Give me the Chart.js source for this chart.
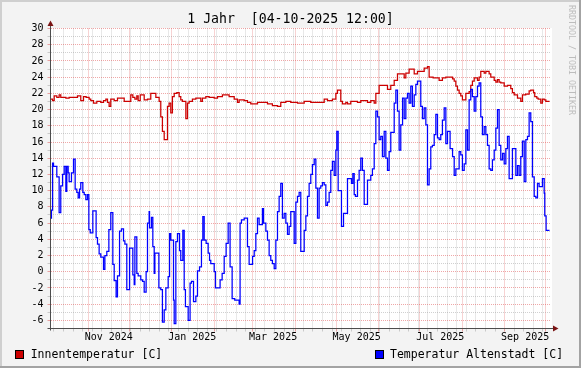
<!DOCTYPE html>
<html>
<head>
<meta charset="utf-8">
<title>1 Jahr</title>
<script src="https://cdn.jsdelivr.net/npm/chart.js@4.4.1/dist/chart.umd.min.js"></script>
<style>
    html, body { margin: 0; padding: 0; background: #f3f3f3; }
    #wrap { position: relative; width: 581px; height: 368px; overflow: hidden; }
    #chart { position: absolute; left: 0; top: 0; }
    .legend { position: absolute; top: 348.6px; font: 11.5px "DejaVu Sans Mono", monospace; line-height: 11.5px; color: #000; white-space: pre; }
    .legend i { position: absolute; left: -15.5px; top: 1px; width: 7px; height: 7px; border: 1px solid #000; }
    #mark { position: absolute; left: 567px; top: 5px; writing-mode: vertical-rl; font: 8.3px "DejaVu Sans Mono", monospace; line-height: 9px; color: #bdbdbd; white-space: pre; }
</style>
</head>
<body>
<div id="wrap">
    <canvas id="chart" width="581" height="368"></canvas>
    <div class="legend" style="left: 30.7px"><i style="background: #cc0000"></i>Innentemperatur [C]</div>
    <div class="legend" style="left: 390px"><i style="background: #0000ff"></i>Temperatur Altenstadt [C]</div>
    <div id="mark">RRDTOOL / TOBI OETIKER</div>
</div>
<script>
// Beschriftungen der x-Achse (alle zwei Monate)
const monthLabels = ['Nov 2024', 'Jan 2025', 'Mar 2025', 'May 2025', 'Jul 2025', 'Sep 2025'];

// Tage seit 04.10.2024 12:00 und Messwerte (Treppenlinie, Wert gilt ab dem Tag)
const redDay = [0, 1.5, 2.7, 4.6, 6.3, 7.5, 11.2, 13.6, 19.7, 22.1, 24.1, 26.0, 28.2, 29.4, 31.4, 33.8, 36.7, 38.7, 40.4, 41.6,
    42.8, 44.0, 46.5, 48.9, 53.8, 58.6, 60.1, 61.6, 63.0, 64.0, 65.5, 68.4, 70.8, 73.2, 76.9, 79.3, 80.5, 81.7, 83.0, 85.4,
    86.6, 87.8, 89.0, 90.3, 92.2, 93.9, 95.1, 96.3, 98.8, 100.0, 101.2, 103.6, 106.1, 109.7, 110.9, 113.4, 115.8, 119.5, 121.9, 125.5,
    130.4, 134.1, 136.5, 137.7, 141.4, 143.8, 146.2, 151.1, 158.4, 162.0, 165.7, 168.1, 171.8, 175.4, 180.3, 185.2, 190.0, 199.8, 202.2, 205.8,
    208.3, 209.5, 211.9, 213.1, 215.6, 216.8, 219.2, 224.1, 226.5, 231.4, 233.8, 236.3, 237.5, 239.9, 246.0, 248.4, 250.9, 253.3, 258.2, 259.4,
    261.8, 265.5, 267.9, 272.8, 275.2, 276.4, 279.3, 283.7, 286.1, 288.6, 293.5, 294.7, 295.9, 297.1, 298.3, 299.5, 300.7, 303.2, 305.6, 306.8,
    308.0, 309.3, 311.7, 312.9, 314.1, 316.6, 317.8, 320.2, 321.4, 323.9, 325.1, 326.3, 327.5, 328.7, 331.2, 333.6, 336.0, 337.2, 338.5, 340.9,
    343.3, 344.5, 346.9, 349.4, 350.6, 352.6, 353.5, 355.0, 356.0, 357.9, 359.1, 360.4, 361.6, 364.3];
const redTemp = [21.3, 21.1, 21.7, 21.5, 21.8, 21.5, 21.4, 21.5, 21.7, 21.1, 21.6, 21.5, 21.3, 21.1, 20.8, 21.0, 20.9, 21.1, 21.3, 20.9,
    20.4, 21.3, 21.1, 21.4, 21.0, 21.8, 21.5, 21.3, 21.7, 21.1, 21.8, 21.2, 21.3, 22.0, 21.5, 21.0, 19.1, 17.3, 16.3, 20.4,
    20.8, 19.6, 21.6, 22.0, 22.1, 21.6, 21.2, 21.0, 18.9, 20.8, 21.0, 21.3, 21.4, 21.0, 21.4, 21.6, 21.5, 21.4, 21.6, 21.8,
    21.6, 21.3, 20.9, 21.2, 21.1, 20.9, 20.7, 20.9, 20.7, 20.5, 20.4, 20.9, 21.0, 20.9, 20.8, 21.0, 20.9, 21.3, 21.1, 21.3,
    22.0, 22.4, 21.0, 20.7, 20.9, 20.7, 21.0, 20.9, 21.1, 20.9, 21.1, 20.8, 22.0, 23.0, 22.5, 23.0, 23.6, 24.4, 23.9, 24.5,
    25.0, 24.4, 24.7, 25.1, 25.3, 24.0, 23.9, 23.6, 23.9, 24.0, 23.8, 23.5, 22.9, 22.4, 22.0, 21.7, 21.2, 22.0, 22.2, 23.0,
    23.5, 23.9, 23.6, 24.0, 24.7, 24.5, 24.7, 24.4, 24.0, 23.6, 23.4, 23.7, 23.4, 23.3, 22.9, 23.0, 22.6, 22.1, 21.8, 21.4,
    21.0, 21.8, 21.9, 22.3, 22.4, 22.1, 21.6, 21.4, 21.3, 20.8, 21.3, 21.2, 21.0, 21.0];

const blueDay = [0, 0.7, 1.5, 2.2, 4.6, 6.3, 7.5, 8.8, 10.0, 11.2, 11.9, 12.9, 13.6, 15.3, 16.8, 18.0, 19.2, 20.2, 21.2, 22.1,
    23.6, 24.6, 25.8, 27.0, 28.0, 29.0, 30.9, 33.3, 34.3, 35.5, 36.7, 38.7, 39.7, 41.1, 42.6, 44.0, 45.5, 46.5, 47.9, 48.9,
    50.4, 51.8, 53.3, 54.3, 55.7, 57.7, 60.1, 61.1, 61.6, 63.0, 64.0, 65.9, 67.2, 68.4, 69.8, 70.8, 72.0, 72.3, 73.7, 74.7,
    75.7, 76.2, 79.1, 80.5, 81.7, 83.0, 84.2, 85.9, 86.9, 87.8, 89.8, 90.3, 91.5, 92.7, 94.2, 95.1, 96.6, 97.6, 98.5, 100.5,
    101.9, 102.9, 104.4, 106.1, 107.3, 108.8, 110.2, 111.2, 112.2, 113.6, 115.1, 116.1, 117.0, 119.5, 120.4, 123.8, 125.3, 126.8, 128.2, 129.7,
    131.1, 132.6, 134.5, 137.7, 138.4, 139.4, 141.4, 143.8, 145.0, 147.5, 148.7, 149.9, 151.1, 152.3, 154.7, 155.5, 157.2, 158.4, 159.6, 160.8,
    162.0, 163.3, 164.5, 165.7, 166.9, 168.1, 169.3, 170.6, 171.8, 173.0, 174.2, 175.4, 177.9, 179.1, 180.3, 181.5, 182.7, 185.2, 186.4, 187.6,
    188.8, 190.0, 191.2, 192.5, 193.7, 194.9, 196.1, 197.3, 198.5, 199.8, 201.0, 202.2, 203.4, 204.6, 205.8, 207.1, 208.3, 209.0, 210.0, 212.4,
    213.9, 216.8, 219.7, 220.7, 221.7, 222.6, 224.1, 225.3, 226.5, 227.7, 229.0, 231.4, 233.8, 235.0, 236.3, 237.5, 238.7, 239.9, 241.1, 242.3,
    243.6, 244.8, 246.0, 247.2, 248.4, 250.9, 252.1, 253.3, 254.5, 255.7, 257.0, 258.2, 259.4, 260.6, 261.8, 263.0, 264.2, 265.5, 266.7, 267.9,
    270.3, 271.5, 272.8, 274.0, 275.2, 276.4, 277.6, 278.8, 280.1, 281.3, 282.5, 283.7, 284.9, 286.1, 287.4, 288.6, 289.8, 291.7, 293.5, 294.7,
    295.9, 298.3, 299.5, 300.7, 302.0, 303.2, 304.4, 305.6, 306.8, 308.0, 309.3, 310.5, 311.7, 312.9, 314.1, 315.3, 316.6, 317.8, 319.0, 320.2,
    321.4, 322.6, 323.9, 325.1, 326.3, 327.5, 328.7, 330.0, 331.2, 332.4, 333.6, 334.8, 337.2, 339.7, 340.9, 342.1, 343.3, 344.5, 345.8, 347.0,
    348.2, 349.4, 350.6, 351.8, 353.1, 354.3, 355.5, 356.7, 359.1, 360.4, 360.8, 361.8, 364.3];
const blueTemp = [6.6, 7.6, 13.4, 13.0, 11.7, 7.3, 10.6, 12.0, 13.0, 9.9, 13.0, 12.2, 11.1, 12.2, 13.9, 10.2, 9.8, 9.1, 10.2, 11.0,
    9.8, 9.5, 8.9, 9.5, 5.2, 4.8, 7.5, 4.2, 3.4, 2.2, 1.8, 0.3, 2.0, 2.5, 5.2, 7.3, 0.9, -1.1, -3.1, -0.5,
    5.0, 5.3, 3.8, 3.4, -2.2, 2.9, -0.4, -1.6, 4.3, -0.2, -0.5, -1.0, -1.2, -2.5, 0.0, 6.0, 7.4, 5.4, 6.7, 3.1,
    -0.2, 2.3, -2.0, -2.2, -6.2, -4.7, -2.0, -0.6, 4.7, 3.9, -3.5, -6.4, 3.7, 4.7, 2.6, 1.4, 5.1, -2.2, -4.3, -6.0,
    -1.4, -1.2, -3.7, -3.0, 0.1, 0.6, 3.9, 6.8, 3.9, 3.5, 2.3, 1.4, 1.0, 0.0, -2.0, -1.0, -0.2, 1.9, 3.5, 6.0,
    0.6, -3.3, -3.5, -4.0, 6.0, 6.4, 6.6, 3.1, 0.9, 1.9, 2.6, 4.7, 6.6, 5.8, 7.8, 6.0, 5.0, 3.9, 2.0, 1.4,
    1.0, 0.4, 3.9, 7.4, 9.3, 10.9, 6.6, 7.2, 6.0, 4.6, 5.6, 7.4, 3.5, 8.6, 9.3, 9.8, 2.5, 5.1, 6.9, 9.3,
    10.9, 12.0, 13.2, 13.9, 10.3, 6.6, 10.3, 10.6, 11.0, 10.7, 8.2, 8.6, 9.8, 12.5, 13.6, 11.9, 15.0, 17.3, 10.0, 5.6,
    7.2, 11.5, 10.9, 12.1, 9.5, 9.3, 11.3, 12.5, 14.0, 12.5, 8.3, 11.3, 11.9, 12.7, 15.8, 19.8, 19.1, 16.3, 16.7, 14.2,
    17.3, 14.0, 12.5, 14.8, 17.2, 20.8, 22.4, 19.8, 15.0, 18.1, 21.4, 18.9, 21.4, 22.0, 20.8, 22.9, 20.4, 21.8, 23.1, 23.5,
    20.4, 18.9, 20.2, 18.1, 10.7, 12.7, 15.4, 15.6, 16.9, 19.4, 16.5, 16.3, 16.9, 18.7, 20.2, 15.8, 17.3, 15.2, 14.2, 11.9,
    12.7, 14.8, 14.4, 12.5, 13.3, 17.5, 15.0, 21.2, 22.5, 21.6, 19.8, 21.6, 22.9, 23.3, 19.1, 16.9, 17.9, 16.9, 15.6, 12.7,
    12.5, 13.8, 15.0, 17.7, 20.0, 15.6, 13.8, 14.6, 13.3, 15.2, 16.7, 11.5, 15.2, 11.9, 13.1, 11.9, 14.2, 16.1, 11.1, 16.3,
    16.7, 19.6, 18.5, 11.7, 9.3, 9.1, 10.9, 10.5, 11.5, 9.7, 6.9, 5.1, 5.1];

const MONO = "'DejaVu Sans Mono', monospace";
const MAJOR = 'rgba(220, 60, 60, 0.45)';
const MINOR = 'rgba(150, 150, 150, 0.45)';

// Zeitachse: Tage ab Grafikbeginn
const start = Date.UTC(2024, 9, 4, 12);
const dayOf = (y, m, d) => (Date.UTC(y, m, d) - start) / 864e5;

// Wochenlinien (Montag), Monatslinien, Beschriftung in der Monatsmitte
const xKind = new Map();
for (let k = 0; ; k++) {
    const v = dayOf(2024, 9, 7 + 7 * k);
    if (v > 365) break;
    xKind.set(v, 'week');
}
for (let m = 10; m <= 21; m++) xKind.set(dayOf(2024, m, 1), 'month');
monthLabels.forEach((txt, i) => xKind.set(dayOf(2024, 10 + 2 * i, 1) + 15, txt));

const xColor = (c) => {
    if (!c.tick) return 'transparent';
    const k = xKind.get(c.tick.value);
    if (k === 'month') return MAJOR;
    if (k === 'week') return MINOR;
    return 'transparent';
};
const yColor = (c) => {
    if (!c.tick || c.tick.value === -7) return 'transparent';
    return c.tick.value % 2 === 0 ? MAJOR : MINOR;
};

// Hintergrund, Rahmen und Achsen mit Pfeilen wie bei RRDtool
const rrdFrame = {
    id: 'rrdFrame',
    beforeDraw(chart) {
        const { ctx, width, height, chartArea: a } = chart;
        ctx.save();
        ctx.fillStyle = '#f3f3f3';
        ctx.fillRect(0, 0, width, height);
        ctx.fillStyle = '#cfcfcf';
        ctx.fillRect(0, 0, width, 2);
        ctx.fillRect(0, 0, 2, height);
        ctx.fillStyle = '#a3a3a3';
        ctx.fillRect(0, height - 2, width, 2);
        ctx.fillRect(width - 2, 0, 2, height);
        ctx.fillStyle = '#ffffff';
        ctx.fillRect(a.left, a.top - 0.5, a.right - a.left + 1.5, a.bottom - a.top + 1);
        ctx.restore();
    },
    afterDraw(chart) {
        const { ctx, chartArea: a } = chart;
        ctx.save();
        ctx.strokeStyle = '#4d4d4d';
        ctx.lineWidth = 1;
        ctx.beginPath();
        ctx.moveTo(a.left, a.bottom + 2);
        ctx.lineTo(a.left, a.top - 3);
        ctx.moveTo(a.left - 3, a.bottom);
        ctx.lineTo(a.right + 3, a.bottom);
        ctx.stroke();
        ctx.fillStyle = '#7a1414';
        ctx.beginPath();
        ctx.moveTo(a.left - 3, a.top - 2.5);
        ctx.lineTo(a.left, a.top - 8);
        ctx.lineTo(a.left + 3, a.top - 2.5);
        ctx.closePath();
        ctx.fill();
        ctx.beginPath();
        ctx.moveTo(a.right + 2.5, a.bottom - 3);
        ctx.lineTo(a.right + 8, a.bottom);
        ctx.lineTo(a.right + 2.5, a.bottom + 3);
        ctx.closePath();
        ctx.fill();
        ctx.restore();
    }
};

const toPoints = (days, temps) => days.map((x, i) => ({ x, y: temps[i] }));

new Chart(document.getElementById('chart'), {
    type: 'line',
    data: {
        datasets: [
            {
                label: 'Temperatur Altenstadt [C]',
                data: toPoints(blueDay, blueTemp),
                borderColor: '#0000ff',
                order: 0
            },
            {
                label: 'Innentemperatur [C]',
                data: toPoints(redDay, redTemp),
                borderColor: '#cc0000',
                order: 1
            }
        ]
    },
    options: {
        responsive: false,
        animation: false,
        devicePixelRatio: 1,
        events: [],
        layout: { padding: 0 },
        elements: {
            point: { radius: 0 },
            line: { borderWidth: 1.25, stepped: true, tension: 0, fill: false }
        },
        plugins: {
            legend: { display: false },
            tooltip: { enabled: false },
            title: {
                display: true,
                text: '1 Jahr  [04-10-2025 12:00]',
                color: '#000',
                font: { family: MONO, size: 13.2, weight: 'normal', lineHeight: 1.2 },
                padding: { top: 11.5, bottom: 1.16 }
            }
        },
        scales: {
            x: {
                type: 'linear',
                min: 0,
                max: 365,
                afterBuildTicks: (s) => {
                    s.ticks = [...xKind.keys()].sort((p, q) => p - q).map((value) => ({ value }));
                },
                afterFit: (s) => { s.height = 39.5; },
                border: { display: false, dash: [1, 1] },
                grid: { color: xColor, tickColor: xColor, lineWidth: 1, tickLength: 3, drawTicks: true },
                ticks: {
                    autoSkip: false,
                    maxRotation: 0,
                    minRotation: 0,
                    padding: 0,
                    color: '#000',
                    font: { family: MONO, size: 10 },
                    callback: (v) => {
                        const k = xKind.get(v);
                        return k === 'week' || k === 'month' ? '' : k;
                    }
                }
            },
            y: {
                min: -7,
                max: 30,
                afterBuildTicks: (s) => {
                    const t = [];
                    for (let v = -7; v <= 30; v++) t.push({ value: v });
                    s.ticks = t;
                },
                afterFit: (s) => { s.width = 50.5; },
                border: { display: false, dash: [1, 1] },
                grid: { color: yColor, tickColor: yColor, lineWidth: 1, tickLength: 3, drawTicks: true },
                ticks: {
                    autoSkip: false,
                    padding: 4,
                    color: '#000',
                    font: { family: MONO, size: 10 },
                    callback: (v) => (v % 2 === 0 ? String(v) : '')
                }
            },
            // leerer Rand rechts (Platz für Pfeil und Schriftzug)
            rand: {
                position: 'right',
                afterFit: (s) => { s.width = 30.5; },
                border: { display: false },
                grid: { display: false },
                ticks: { display: false }
            }
        }
    },
    plugins: [rrdFrame]
});
</script>
</body>
</html>
